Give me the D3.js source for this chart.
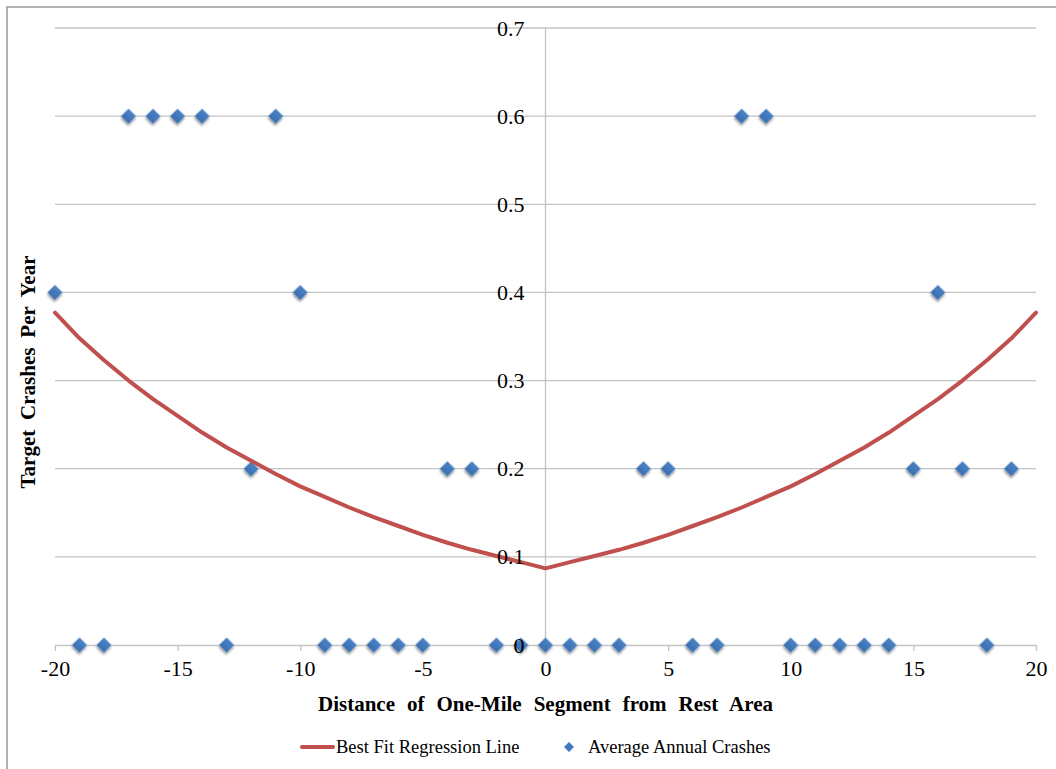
<!DOCTYPE html>
<html><head><meta charset="utf-8">
<script src="https://cdn.jsdelivr.net/npm/d3@7"></script>
<style>
body{margin:0;background:#fff}
svg{display:block}
text{font-family:"Liberation Serif","Times New Roman",serif;fill:#000}
</style>
</head><body>
<svg id="c" width="1056" height="769"></svg>
<script>
// ---- data ----
const fitDistance = [-20,-19,-18,-17,-16,-15,-14,-13,-12,-11,-10,-9,-8,-7,-6,-5,-4,-3,-2,-1,0,1,2,3,4,5,6,7,8,9,10,11,12,13,14,15,16,17,18,19,20];
const fitCrashes = [0.377,0.348,0.323,0.300,0.279,0.260,0.241,0.224,0.209,0.194,0.180,0.168,0.156,0.145,0.135,0.125,0.116,0.108,0.101,0.094,0.087,0.094,0.101,0.108,0.116,0.125,0.135,0.145,0.156,0.168,0.180,0.194,0.209,0.224,0.241,0.260,0.279,0.300,0.323,0.348,0.377];
const crashDistance = [-20,-19,-18,-17,-16,-15,-14,-13,-12,-11,-10,-9,-8,-7,-6,-5,-4,-3,-2,-1,0,1,2,3,4,5,6,7,8,9,10,11,12,13,14,15,16,17,18,19];
const crashValues = [0.4,0,0,0.6,0.6,0.6,0.6,0,0.2,0.6,0.4,0,0,0,0,0,0.2,0.2,0,0,0,0,0,0,0.2,0.2,0,0,0.6,0.6,0,0,0,0,0,0.2,0.4,0.2,0,0.2];
const xTicks = [-20,-15,-10,-5,0,5,10,15,20];
const xTickLabels = ["-20","-15","-10","-5","0","5","10","15","20"];
const yTicks = [0,0.1,0.2,0.3,0.4,0.5,0.6,0.7];
const yTickLabels = ["0","0.1","0.2","0.3","0.4","0.5","0.6","0.7"];
const xTitle = "Distance of One-Mile Segment from Rest Area";
const yTitle = "Target Crashes Per Year";
const legendLabels = ["Best Fit Regression Line","Average Annual Crashes"];

// ---- drawing ----
const svg = d3.select("#c");
const x = d3.scaleLinear().domain([-20,20]).range([55,1036]);
const y = d3.scaleLinear().domain([0,0.7]).range([645,28]);
const gridColor = "#c4c4c4";
const lineColor = "#c0504d";
const dotColor = "#4279bd";

const defs = svg.append("defs");
const f = defs.append("filter").attr("id","sh").attr("x","-50%").attr("y","-50%").attr("width","200%").attr("height","200%");
f.append("feDropShadow").attr("dx",1.2).attr("dy",1.8).attr("stdDeviation",1.3).attr("flood-color","#000").attr("flood-opacity",0.45);
const g2 = defs.append("linearGradient").attr("id","dg").attr("x1",0).attr("y1",0).attr("x2",0).attr("y2",1);
g2.append("stop").attr("offset","0%").attr("stop-color","#4a83c6");
g2.append("stop").attr("offset","100%").attr("stop-color","#3a6fb0");

svg.append("rect").attr("x",0).attr("y",0).attr("width",1056).attr("height",769).attr("fill","#fff");
svg.append("rect").attr("x",7).attr("y",7).attr("width",1200).attr("height",900)
  .attr("fill","none").attr("stroke","#a0a0a0").attr("stroke-width",1.6);

// gridlines
svg.append("g").selectAll("line").data(yTicks.filter(d=>d>0)).join("line")
  .attr("x1",x(-20)).attr("x2",x(20)).attr("y1",d=>y(d)).attr("y2",d=>y(d))
  .attr("stroke",gridColor).attr("stroke-width",1.3);

// vertical axis line at x=0
svg.append("line").attr("x1",x(0)).attr("x2",x(0)).attr("y1",y(0.7)).attr("y2",y(0))
  .attr("stroke",gridColor).attr("stroke-width",1.3);

// horizontal axis via d3.axisBottom
const xAxis = d3.axisBottom(x).tickValues(xTicks).tickSize(6).tickSizeOuter(0).tickFormat((d,i)=>xTickLabels[i]);
const gx = svg.append("g").attr("transform",`translate(0,${y(0)})`).call(xAxis);
gx.select(".domain").attr("stroke",gridColor).attr("stroke-width",1.3);
gx.selectAll(".tick line").attr("stroke",gridColor).attr("stroke-width",1.3);
gx.selectAll(".tick text").attr("font-size",22).attr("font-family","Liberation Serif, serif")
  .attr("fill","#000").attr("y",11).attr("dy","0.9em");

// scatter diamonds
const diamond = d3.symbol().type(d3.symbolSquare).size(112);
svg.append("g").selectAll("path").data(crashDistance.map((d,i)=>[d,crashValues[i]])).join("path")
  .attr("d",diamond)
  .attr("transform",d=>`translate(${x(d[0])},${y(d[1])}) rotate(45)`)
  .attr("fill","url(#dg)").attr("filter","url(#sh)");

// regression line
const line = d3.line().x(d=>x(d[0])).y(d=>y(d[1])).curve(d3.curveLinear);
svg.append("path").datum(fitDistance.map((d,i)=>[d,fitCrashes[i]]))
  .attr("d",line).attr("fill","none").attr("stroke",lineColor).attr("stroke-width",4)
  .attr("stroke-linejoin","round").attr("stroke-linecap","round");

// y tick labels (left of central axis)
svg.append("g").selectAll("text").data(yTicks).join("text")
  .attr("x",x(0)-21).attr("y",d=>y(d)+7.5).attr("text-anchor","end")
  .attr("font-size",22).text((d,i)=>yTickLabels[i]);

// titles with word spacing fitted to reference widths
function fitWords(sel, target){
  const len = sel.node().getComputedTextLength();
  const gaps = sel.text().split(" ").length-1;
  const ws = Math.max(0,(target-len)/gaps);
  sel.attr("word-spacing",ws);
}
const xt = svg.append("text").attr("x",(318+773)/2).attr("y",711).attr("text-anchor","middle")
  .attr("font-size",21).attr("font-weight","bold").text(xTitle);
fitWords(xt,455);
const yt = svg.append("text").attr("transform",`translate(35,372) rotate(-90)`).attr("text-anchor","middle")
  .attr("font-size",21).attr("font-weight","bold").text(yTitle);
fitWords(yt,233);

// legend
const lg = svg.append("g");
lg.append("line").attr("x1",302).attr("x2",333).attr("y1",747).attr("y2",747)
  .attr("stroke",lineColor).attr("stroke-width",4).attr("stroke-linecap","round");
lg.append("text").attr("x",336).attr("y",753).attr("font-size",18.5).text(legendLabels[0]);
lg.append("path").attr("d",d3.symbol().type(d3.symbolSquare).size(50))
  .attr("transform","translate(569,747) rotate(45)").attr("fill",dotColor);
lg.append("text").attr("x",588).attr("y",753).attr("font-size",18.5).text(legendLabels[1]);
</script>
</body></html>
